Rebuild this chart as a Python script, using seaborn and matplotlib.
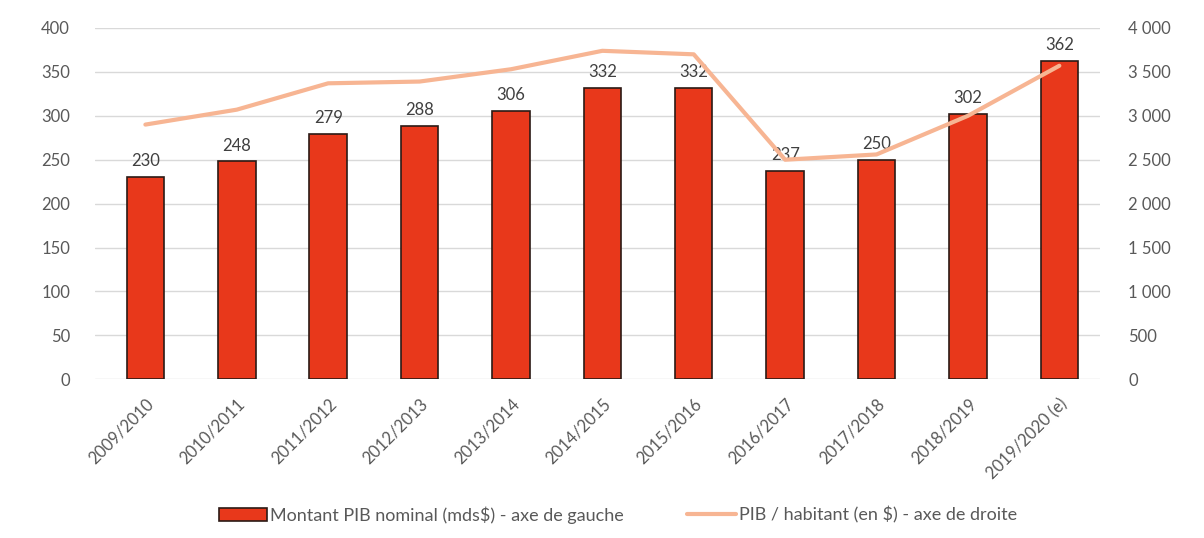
import pandas as pd
import matplotlib.pyplot as plt
import seaborn as sns
from matplotlib.ticker import FuncFormatter

# data
periods = ['2009/2010', '2010/2011', '2011/2012', '2012/2013', '2013/2014',
           '2014/2015', '2015/2016', '2016/2017', '2017/2018', '2018/2019',
           '2019/2020 (e)']
pib_nominal = [230, 248, 279, 288, 306, 332, 332, 237, 250, 302, 362]
pib_habitant = [2900, 3070, 3370, 3390, 3530, 3740, 3700, 2500, 2560, 3000, 3570]

bar_label = 'Montant PIB nominal (mds$) - axe de gauche'
line_label = 'PIB / habitant (en $) - axe de droite'

df = pd.DataFrame({'periode': periods, 'pib': pib_nominal, 'hab': pib_habitant})

sns.set_style('white')
plt.rcParams['font.family'] = ['Lato', 'DejaVu Sans']
grey = '#595959'

fig = plt.figure(figsize=(12.04, 5.38), dpi=100)
ax = fig.add_axes([0.079, 0.295, 0.835, 0.653])

sns.barplot(data=df, x='periode', y='pib', color='#E8381B', edgecolor='#2b1a15',
            linewidth=1.2, width=0.41, saturation=1, ax=ax, label=bar_label, zorder=3)
for i, v in enumerate(pib_nominal):
    ax.text(i, v + 9, str(v), ha='center', va='bottom', fontsize=12, color='#404040', zorder=5)

ax.set_ylim(0, 400)
ax.set_yticks(range(0, 401, 50))
ax.set_xlim(-0.55, 10.45)
ax.grid(axis='y', color='#d9d9d9', linewidth=1, zorder=0)
ax.set_axisbelow(True)
ax.set_xlabel('')
ax.set_ylabel('')
for s in ax.spines.values():
    s.set_visible(False)
ax.tick_params(axis='y', colors=grey, labelsize=12, length=0, pad=18)
ax.tick_params(axis='x', colors=grey, labelsize=12, length=0, pad=12)
plt.setp(ax.get_xticklabels(), rotation=45, ha='right', rotation_mode='anchor')
if ax.get_legend() is not None:
    ax.get_legend().remove()

ax2 = ax.twinx()
sns.lineplot(data=df, x='periode', y='hab', sort=False, color='#F7B593', linewidth=3,
             ax=ax2, label=line_label, zorder=4)
ax2.set_ylim(0, 4000)
ax2.set_yticks(range(0, 4001, 500))
ax2.yaxis.set_major_formatter(FuncFormatter(lambda v, p: f'{int(v):,}'.replace(',', ' ')))
ax2.set_ylabel('')
for s in ax2.spines.values():
    s.set_visible(False)
ax2.tick_params(axis='y', colors=grey, labelsize=12, length=0, pad=20)
ax2.get_legend().remove()

h1, l1 = ax.get_legend_handles_labels()
h2, l2 = ax2.get_legend_handles_labels()
fig.legend(h1 + h2, l1 + l2, loc='center', bbox_to_anchor=(0.513, 0.043), ncol=2,
           frameon=False, fontsize=13, labelcolor=grey, columnspacing=3.5,
           handlelength=2.7, handletextpad=0.15)

fig.savefig('out.png', dpi=100)
